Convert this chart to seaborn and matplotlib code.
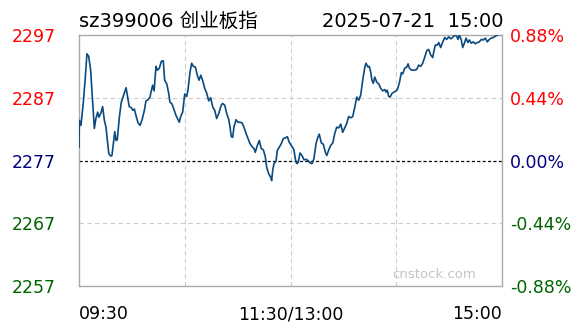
import matplotlib
matplotlib.use("Agg")
import matplotlib.pyplot as plt
import seaborn as sns
import pandas as pd

# ---- data (minutes since 09:30, trading time) ----
minutes = [
    0.0, 0.2, 1.1, 2.4, 3.6, 4.5, 5.5, 6.6, 7.8, 8.7, 9.6, 10.6, 11.3, 12.5, 13.4, 14.4,
    15.3, 16.3, 16.9, 18.0, 18.7, 19.5, 20.3, 21.0, 21.7, 22.9, 24.0, 25.1, 26.7, 27.6,
    28.5, 29.7, 30.5, 31.4, 32.3, 33.5, 34.6, 35.7, 37.1, 38.0, 39.2, 40.3, 40.7, 41.8,
    42.6, 43.7, 44.4, 45.6, 46.7, 47.8, 48.6, 49.8, 50.9, 51.6, 52.8, 53.9, 55.0, 56.2,
    56.9, 57.7, 58.8, 60.0, 61.1, 61.8, 63.0, 63.9, 64.9, 66.0, 67.1, 68.1, 69.1, 70.2,
    71.3, 72.5, 73.6, 74.7, 75.9, 77.0, 78.1, 79.3, 80.7, 81.5, 82.7, 83.8, 85.0, 85.7,
    86.4, 87.2, 87.9, 89.1, 90.2, 91.4, 92.5, 93.6, 94.8, 95.9, 97.0, 98.2, 99.3, 100.0,
    101.2, 102.3, 103.4, 104.6, 105.7, 106.5, 107.6, 108.8, 109.3, 109.9, 110.6, 111.8,
    112.5, 113.6, 114.8, 115.9, 117.1, 118.2, 119.3, 120.4, 121.6, 122.0, 122.7, 123.5,
    124.4, 125.4, 126.5, 127.7, 128.8, 129.9, 131.1, 132.2, 133.3, 134.5, 135.6, 136.3,
    137.5, 138.6, 139.8, 140.6, 141.7, 142.8, 144.0, 145.1, 146.2, 147.4, 148.5, 149.6,
    150.8, 151.9, 153.0, 154.2, 155.3, 156.4, 157.6, 158.7, 159.8, 161.0, 162.1, 162.8,
    164.0, 164.7, 165.5, 166.2, 167.0, 167.8, 168.9, 170.1, 171.2, 172.3, 173.5, 174.2,
    174.9, 175.7, 176.5, 177.6, 178.7, 179.9, 180.6, 181.7, 182.9, 183.7, 184.8, 186.0,
    186.7, 187.5, 188.6, 190.2, 191.6, 192.7, 193.9, 195.0, 196.2, 197.3, 198.4, 199.6,
    200.7, 201.4, 202.2, 203.3, 204.1, 205.2, 206.4, 207.5, 208.6, 209.8, 210.9, 212.0,
    213.2, 214.3, 215.0, 215.8, 216.9, 217.7, 218.8, 219.6, 220.7, 221.5, 222.6, 223.7,
    224.9, 226.0, 227.1, 228.3, 229.4, 230.5, 231.7, 232.8, 233.9, 235.1, 236.2, 237.3,
    238.5, 240.0,
]
prices = [
    2279.1, 2283.4, 2282.6, 2286.1, 2290.3, 2294.0, 2293.6, 2291.4, 2286.1, 2282.1, 2283.7, 2284.7, 2283.9, 2284.6, 2285.6, 2283.4,
    2282.3, 2279.7, 2278.1, 2277.7, 2277.8, 2279.7, 2281.6, 2280.2, 2280.3, 2283.9, 2286.3, 2287.2, 2288.6, 2287.1,
    2285.6, 2285.4, 2285.0, 2285.2, 2284.2, 2283.0, 2282.6, 2283.4, 2285.0, 2286.5, 2286.7, 2287.1, 2287.7, 2289.0,
    2288.1, 2292.0, 2291.4, 2291.7, 2292.8, 2292.9, 2289.8, 2289.2, 2287.7, 2286.3, 2286.0, 2285.1, 2284.2, 2283.5,
    2283.1, 2284.0, 2284.7, 2287.6, 2287.2, 2288.2, 2291.1, 2292.5, 2292.0, 2291.9, 2290.6, 2289.8, 2290.6, 2289.7,
    2288.5, 2287.7, 2286.5, 2287.0, 2285.5, 2285.0, 2283.7, 2284.5, 2285.8, 2286.1, 2285.8, 2284.5, 2283.5, 2282.3,
    2280.8, 2280.7, 2282.3, 2283.5, 2283.1, 2283.1, 2283.0, 2282.3, 2281.3, 2280.5, 2279.7, 2279.2, 2278.9, 2278.3,
    2279.4, 2280.2, 2278.9, 2278.7, 2277.6, 2275.9, 2274.9, 2274.3, 2273.8, 2275.4, 2276.5, 2276.9,
    2278.6, 2279.1, 2279.7, 2280.5, 2280.6, 2280.8, 2279.9, 2279.4, 2278.9, 2278.6, 2277.3, 2276.5,
    2276.7, 2278.2, 2277.8, 2277.1, 2277.2, 2277.0, 2276.6, 2276.5, 2277.3, 2279.7, 2280.8, 2281.2,
    2279.8, 2279.6, 2278.3, 2277.8, 2278.7, 2279.4, 2279.8, 2281.3, 2282.3, 2282.2, 2282.8, 2281.5,
    2282.2, 2282.9, 2284.0, 2283.8, 2284.0, 2285.4, 2287.1, 2286.6, 2287.4, 2289.8, 2291.8, 2292.5,
    2291.9, 2292.0, 2291.1, 2289.8, 2289.3, 2290.3, 2289.5, 2289.2, 2288.5, 2288.1, 2288.3, 2287.9,
    2288.2, 2287.2, 2287.1, 2287.7, 2287.9, 2288.1, 2288.3, 2289.3, 2291.0, 2290.8, 2291.7, 2291.9,
    2292.4, 2291.7, 2291.4, 2291.4, 2291.5, 2292.2, 2292.0, 2292.5, 2293.5, 2294.5, 2294.7, 2293.8,
    2293.4, 2294.5, 2295.4, 2295.4, 2295.8, 2295.0, 2295.9, 2296.6, 2296.3, 2296.7, 2296.4, 2296.6,
    2297.0, 2296.8, 2296.3, 2297.0, 2296.2, 2295.0, 2295.8, 2296.5, 2295.8, 2296.2, 2295.7, 2295.9,
    2295.6, 2295.8, 2295.9, 2296.3, 2296.2, 2296.5, 2295.9, 2296.3, 2296.5, 2296.6, 2296.8, 2297.0,
    2297.1, 2297.1,
]

prev_close = 2277
left_ticks = [2257, 2267, 2277, 2287, 2297]
left_labels = ["2257", "2267", "2277", "2287", "2297"]
right_labels = ["-0.88%", "-0.44%", "0.00%", "0.44%", "0.88%"]
tick_colors = ["#006400", "#006400", "#000080", "#ff0000", "#ff0000"]
x_ticks = [0, 120, 240]
x_labels = ["09:30", "11:30/13:00", "15:00"]
title_left = "sz399006 创业板指"
title_right = "2025-07-21  15:00"
watermark = "cnstock.com"

sns.set_style("white")
plt.rcParams["font.family"] = ["DejaVu Sans", "Noto Sans CJK SC"]

df = pd.DataFrame({"minute": minutes, "price": prices})

fig = plt.figure(figsize=(5.88, 3.24), dpi=100)
ax = fig.add_axes([79 / 588, 38 / 324, 423 / 588, 251 / 324])

# grid
for v in [60, 120, 180]:
    ax.axvline(v, color="#cccccc", lw=0.8, ls=(0, (4, 3)), zorder=1)
for h in [2267, 2287]:
    ax.axhline(h, color="#cccccc", lw=0.8, ls=(0, (4, 3)), zorder=1)
ax.axhline(prev_close, color="black", lw=0.9, ls=(0, (2.5, 1.8)), zorder=2)

sns.lineplot(data=df, x="minute", y="price", ax=ax, color="#0b4a7e",
             linewidth=1.2, estimator=None, sort=False, zorder=3)

ax.set_xlim(0, 240)
ax.set_ylim(2257, 2297)
ax.set_xlabel("")
ax.set_ylabel("")
for s in ax.spines.values():
    s.set_visible(True)
    s.set_color("#aaaaaa")
    s.set_linewidth(1.0)

ax.set_yticks(left_ticks)
ax.set_yticklabels(left_labels, fontsize=12.5)
for lbl, c in zip(ax.get_yticklabels(), tick_colors):
    lbl.set_color(c)
ax.tick_params(axis="y", length=0, pad=17)

ax.set_xticks(x_ticks)
ax.set_xticklabels(x_labels, fontsize=12.5, color="black")
ax.tick_params(axis="x", length=0, pad=14)
xl = ax.get_xticklabels()
xl[0].set_ha("left")
xl[2].set_ha("right")

ax2 = ax.twinx()
ax2.set_ylim(2257, 2297)
ax2.set_yticks(left_ticks)
ax2.set_yticklabels(right_labels, fontsize=12.5)
for lbl, c in zip(ax2.get_yticklabels(), tick_colors):
    lbl.set_color(c)
ax2.tick_params(axis="y", length=0, pad=6)
for s in ax2.spines.values():
    s.set_visible(False)
ax2.grid(False)

ax.text(0.9385, 0.044, watermark, transform=ax.transAxes, ha="right", va="center",
        fontsize=9.5, color="#c4c4c4")

fig.text(79 / 588, 1 - 26.7 / 324, title_left, ha="left", va="baseline", fontsize=14, color="black")
fig.text(503 / 588, 1 - 26.7 / 324, title_right, ha="right", va="baseline", fontsize=14, color="black")

fig.savefig("out.png", dpi=100)
